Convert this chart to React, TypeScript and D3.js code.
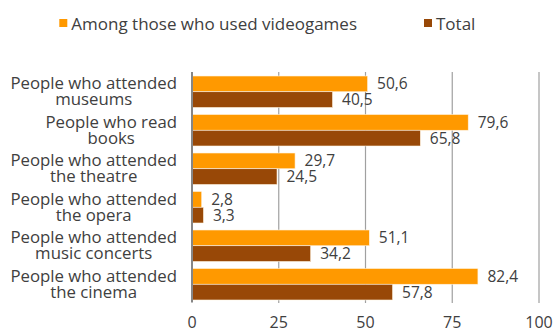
import React, { useEffect, useRef } from "react";
import * as d3 from "d3";

const categories = ["museums", "books", "theatre", "opera", "concerts", "cinema"];
const categoryLines: string[][] = [
  ["People who attended", "museums"],
  ["People who read", "books"],
  ["People who attended", "the theatre"],
  ["People who attended", "the opera"],
  ["People who attended", "music concerts"],
  ["People who attended", "the cinema"],
];
const gamers = [50.6, 79.6, 29.7, 2.8, 51.1, 82.4];
const total = [40.5, 65.8, 24.5, 3.3, 34.2, 57.8];
const seriesNames = ["Among those who used videogames", "Total"];
const seriesColors = ["#FF9900", "#984807"];
const xTicks = [0, 25, 50, 75, 100];

const W = 554;
const H = 329;
const FONT = "'Open Sans', sans-serif";
const TEXT = "#404040";

export default function App() {
  const ref = useRef<SVGSVGElement>(null);

  useEffect(() => {
    const svg = d3.select(ref.current);
    svg.selectAll("*").remove();

    const x = d3.scaleLinear().domain([0, 100]).range([192, 539]);
    const y = d3.scaleBand<string>().domain(categories).range([72.5, 303.5]).padding(0);
    const bw = y.bandwidth();
    const sub = d3.scaleBand<number>().domain([0, 1]).range([3.5, bw - 3.5]).padding(0);

    // grid
    svg
      .append("g")
      .selectAll("line")
      .data(xTicks.slice(1))
      .join("line")
      .attr("x1", (d) => x(d))
      .attr("x2", (d) => x(d))
      .attr("y1", 72)
      .attr("y2", 303)
      .attr("stroke", "#a0a0a0")
      .attr("stroke-width", 1.2);

    const series = [gamers, total];
    series.forEach((vals, si) => {
      const g = svg.append("g");
      g.selectAll("rect")
        .data(vals)
        .join("rect")
        .attr("x", x(0))
        .attr("y", (_, i) => (y(categories[i]) as number) + (sub(si) as number))
        .attr("width", (d) => x(d) - x(0))
        .attr("height", sub.bandwidth())
        .attr("fill", seriesColors[si])
        .attr("stroke", "#fff3e0")
        .attr("stroke-width", 0.6);
      g.selectAll("text")
        .data(vals)
        .join("text")
        .attr("x", (d) => x(d) + 9.5)
        .attr("y", (_, i) => (y(categories[i]) as number) + (sub(si) as number) + sub.bandwidth() / 2)
        .attr("dy", "0.36em")
        .attr("font-family", FONT)
        .attr("font-size", 15.5)
        .attr("fill", TEXT)
        .text((d) => d.toFixed(1).replace(".", ","));
    });

    // axis line
    svg
      .append("line")
      .attr("x1", x(0))
      .attr("x2", x(0))
      .attr("y1", 72)
      .attr("y2", 302.5)
      .attr("stroke", "#868686")
      .attr("stroke-width", 2);

    // tick labels
    svg
      .append("g")
      .selectAll("text")
      .data(xTicks)
      .join("text")
      .attr("x", (d) => x(d))
      .attr("y", 327.5)
      .attr("text-anchor", "middle")
      .attr("font-family", FONT)
      .attr("font-size", 16)
      .attr("fill", TEXT)
      .text((d) => String(d));

    // category labels
    categories.forEach((c, i) => {
      const cy = (y(c) as number) + bw / 2;
      const t = svg
        .append("text")
        .attr("font-family", FONT)
        .attr("font-size", 16.8)
        .attr("fill", TEXT)
        .attr("text-anchor", "middle");
      const spans = categoryLines[i].map((line, li) =>
        t.append("tspan").attr("y", cy - 2.75 + li * 16).text(line)
      );
      let maxW = 0;
      spans.forEach((s) => {
        const n = s.node() as SVGTSpanElement;
        maxW = Math.max(maxW, n.getComputedTextLength());
      });
      spans.forEach((s) => s.attr("x", 177 - maxW / 2));
    });

    // legend
    const legendX = [59.3, 424];
    seriesNames.forEach((name, i) => {
      svg
        .append("rect")
        .attr("x", legendX[i])
        .attr("y", 19)
        .attr("width", 8)
        .attr("height", 8)
        .attr("fill", seriesColors[i]);
      svg
        .append("text")
        .attr("x", legendX[i] + 12)
        .attr("y", 30)
        .attr("font-family", FONT)
        .attr("font-size", 17)
        .attr("fill", TEXT)
        .text(name);
    });
  }, []);

  return (
    <svg
      ref={ref}
      width={W}
      height={H}
      style={{ position: "absolute", left: 0, top: 0, background: "#fff" }}
    />
  );
}
